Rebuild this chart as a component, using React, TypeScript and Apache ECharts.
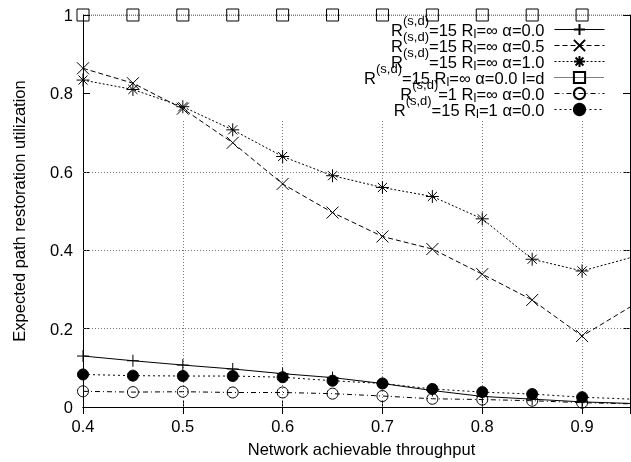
import React, { useEffect, useRef } from "react";
import * as echarts from "echarts";

// x categories (network achievable throughput); the last point lies just past the visible range
const xValues = [0.4, 0.45, 0.5, 0.55, 0.6, 0.65, 0.7, 0.75, 0.8, 0.85, 0.9, 0.95];

// series values
const alpha00 = [0.13, 0.118, 0.107, 0.097, 0.085, 0.075, 0.06, 0.042, 0.027, 0.02, 0.013, 0.009];
const alpha05 = [0.864, 0.826, 0.761, 0.674, 0.569, 0.496, 0.435, 0.403, 0.339, 0.273, 0.181, 0.258];
const alpha10 = [0.834, 0.81, 0.766, 0.707, 0.639, 0.59, 0.56, 0.537, 0.48, 0.377, 0.347, 0.382];
const alpha00ld = [1, 1, 1, 1, 1, 1, 1, 1, 1, 1, 1, 1];
const rsd1 = [0.04, 0.038, 0.039, 0.037, 0.037, 0.034, 0.028, 0.021, 0.019, 0.016, 0.011, 0.008];
const rl1 = [0.083, 0.08, 0.079, 0.079, 0.076, 0.067, 0.06, 0.046, 0.038, 0.033, 0.025, 0.02];

const seriesNames = [
  "R(s,d)=15 Rl=∞ α=0.0",
  "R(s,d)=15 Rl=∞ α=0.5",
  "R(s,d)=15 Rl=∞ α=1.0",
  "R(s,d)=15 Rl=∞ α=0.0 l=d",
  "R(s,d)=1 Rl=∞ α=0.0",
  "R(s,d)=15 Rl=1 α=0.0",
];
const legendLabels = [
  "R{sup|(s,d)}=15 R{sub|l}=∞ α=0.0{g| }",
  "R{sup|(s,d)}=15 R{sub|l}=∞ α=0.5{g| }",
  "R{sup|(s,d)}=15 R{sub|l}=∞ α=1.0{g| }",
  "R{sup|(s,d)}=15 R{sub|l}=∞ α=0.0 l=d{g| }",
  "R{sup|(s,d)}=1 R{sub|l}=∞ α=0.0{g| }",
  "R{sup|(s,d)}=15 R{sub|l}=1 α=0.0{g| }",
];

// grid lines (gnuplot style, hidden behind the key above gridTop)
const gridY = [0.2, 0.4, 0.6];
const gridX = [0.5, 0.6, 0.7, 0.8, 0.9];
const gridTop = 0.732;

const xTitle = "Network achievable throughput";
const yTitle = "Expected path restoration utilization";

const FONT = "'Liberation Sans', Arial, Helvetica, sans-serif";
const FS = 16.5;

const plusPath = "path://M0,5L10,5M5,0L5,10";
const crossPath = "path://M0,0L10,10M10,0L0,10";
const starPath = "path://M0,5L10,5M5,0L5,10M1.5,1.5L8.5,8.5M8.5,1.5L1.5,8.5";

const strokeMarker = { color: "none", borderColor: "#000", borderWidth: 1 };

function pairs(vals: number[]) {
  return xValues.map((x, i) => [x, vals[i]]);
}

export default function App() {
  const ref = useRef<HTMLDivElement>(null);
  useEffect(() => {
    const chart = echarts.init(ref.current!, null, { renderer: "svg" });
    const gridLine = { type: [1, 2], color: "#777", width: 1 };
    const markData: any[] = [
      ...gridY.map((v) => ({ yAxis: v })),
      ...gridX.map((v) => [{ coord: [v, 0] }, { coord: [v, gridTop] }]),
    ];
    const base = (name: string, vals: number[], symbol: string, size: number, dash: any, itemStyle: any) => ({
      type: "line",
      name,
      data: pairs(vals),
      symbol,
      symbolSize: size,
      showAllSymbol: true,
      clip: true,
      lineStyle: { color: "#000", width: 1, type: dash },
      itemStyle,
      z: 3,
    });
    const series: any[] = [
      base(seriesNames[0], alpha00, plusPath, 12, "solid", strokeMarker),
      base(seriesNames[1], alpha05, crossPath, 12, [5, 3], strokeMarker),
      base(seriesNames[2], alpha10, starPath, 13, [2, 2], strokeMarker),
      base(seriesNames[3], alpha00ld, "rect", 12, [1, 1], strokeMarker),
      base(seriesNames[4], rsd1, "circle", 11, [5, 3, 1, 3], strokeMarker),
      base(seriesNames[5], rl1, "circle", 11, [2, 3], { color: "#000", borderColor: "#000", borderWidth: 1 }),
    ];
    series[0].markLine = {
      silent: true,
      symbol: "none",
      label: { show: false },
      lineStyle: gridLine,
      data: markData,
      z: 1,
    };
    const axisCommon = {
      axisLine: { show: true, lineStyle: { color: "#000", width: 1 } },
      axisTick: { show: true, inside: true, length: 7, lineStyle: { color: "#000" } },
      splitLine: { show: false },
    };
    chart.setOption({
      animation: false,
      textStyle: { fontFamily: FONT },
      grid: { left: 83, top: 15, width: 547, height: 392, show: false },
      legend: {
        orient: "vertical",
        right: 21,
        top: 9,
        align: "right",
        itemWidth: 50,
        itemHeight: 14,
        itemGap: -15,
        data: seriesNames,
        selectedMode: false,
        lineStyle: { width: 1 },
        formatter: (name: string) => legendLabels[seriesNames.indexOf(name)],
        textStyle: {
          fontFamily: FONT,
          fontSize: FS,
          lineHeight: 16,
          color: "#000",
          rich: {
            sup: { fontFamily: FONT, fontSize: 13, lineHeight: 16, padding: [0, 0, 18, 0], color: "#000" },
            sub: { fontFamily: FONT, fontSize: 13, lineHeight: 16, padding: [8, 0, 0, 0], color: "#000" },
            g: { width: 5, fontSize: FS, lineHeight: 16 },
          },
        },
      },
      xAxis: [
        {
          type: "value",
          position: "bottom",
          min: 0.4,
          max: 0.948,
          interval: 0.1,
          name: xTitle,
          nameLocation: "middle",
          nameGap: 33,
          nameTextStyle: { fontFamily: FONT, fontSize: FS, color: "#000", padding: [0, 0, 0, 10] },
          axisLabel: { fontFamily: FONT, fontSize: FS, color: "#000", margin: 10, showMaxLabel: false },
          ...axisCommon,
        },
        {
          type: "value",
          position: "top",
          min: 0.4,
          max: 0.948,
          interval: 0.1,
          axisLabel: { show: false },
          ...axisCommon,
        },
      ],
      yAxis: [
        {
          type: "value",
          position: "left",
          min: 0,
          max: 1,
          interval: 0.2,
          name: yTitle,
          nameLocation: "middle",
          nameGap: 56,
          nameTextStyle: { fontFamily: FONT, fontSize: FS, color: "#000" },
          axisLabel: { fontFamily: FONT, fontSize: FS, color: "#000", margin: 10 },
          ...axisCommon,
        },
        {
          type: "value",
          position: "right",
          min: 0,
          max: 1,
          interval: 0.2,
          axisLabel: { show: false },
          ...axisCommon,
        },
      ],
      series,
    });
    return () => chart.dispose();
  }, []);
  return <div ref={ref} style={{ position: "fixed", left: 0, top: 0, width: 631, height: 462 }} />;
}
